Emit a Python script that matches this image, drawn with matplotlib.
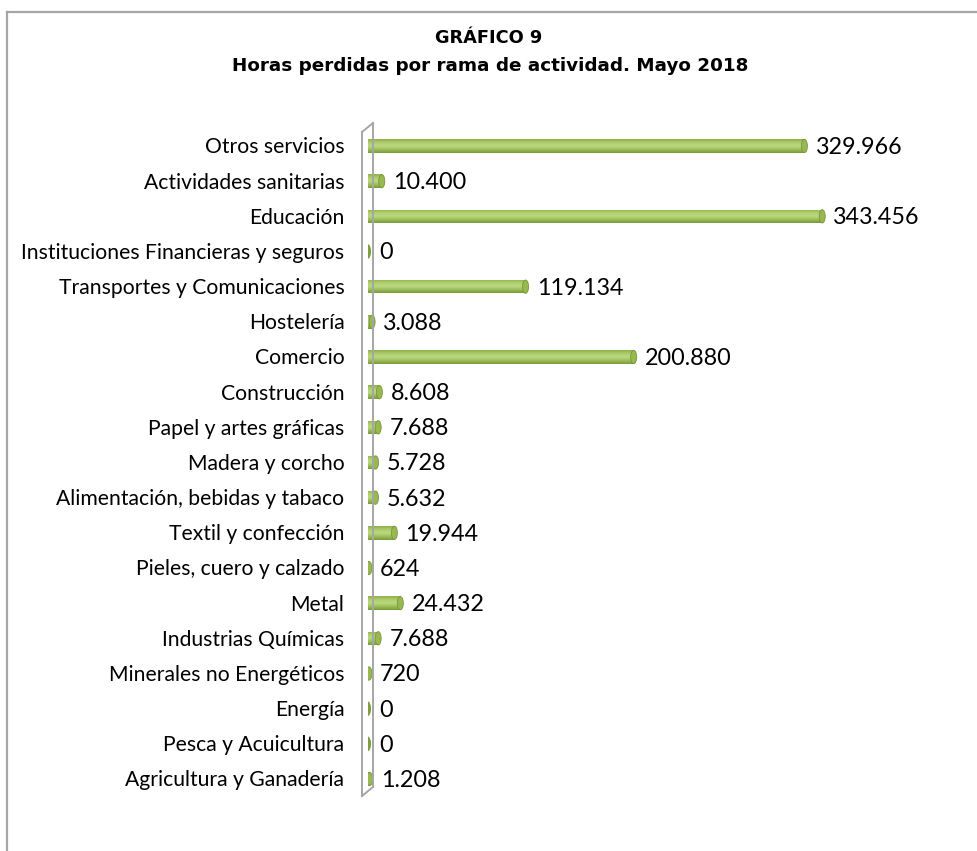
import matplotlib
matplotlib.use("Agg")
import matplotlib.pyplot as plt
import numpy as np
from matplotlib.patches import Ellipse
from matplotlib.lines import Line2D
from matplotlib.colors import LinearSegmentedColormap

categories = [
    "Agricultura y Ganadería",
    "Pesca y Acuicultura",
    "Energía",
    "Minerales no Energéticos",
    "Industrias Químicas",
    "Metal",
    "Pieles, cuero y calzado",
    "Textil y confección",
    "Alimentación, bebidas y tabaco",
    "Madera y corcho",
    "Papel y artes gráficas",
    "Construcción",
    "Comercio",
    "Hostelería",
    "Transportes y Comunicaciones",
    "Instituciones Financieras y seguros",
    "Educación",
    "Actividades sanitarias",
    "Otros servicios",
]
values = [1208, 0, 0, 720, 7688, 24432, 624, 19944, 5632, 5728, 7688, 8608,
          200880, 3088, 119134, 0, 343456, 10400, 329966]
value_labels = ["1.208", "0", "0", "720", "7.688", "24.432", "624", "19.944",
                "5.632", "5.728", "7.688", "8.608", "200.880", "3.088",
                "119.134", "0", "343.456", "10.400", "329.966"]
title1 = "GRÁFICO 9"
title2 = "Horas perdidas por rama de actividad. Mayo 2018"

FONT = ["Lato", "DejaVu Sans"]
W, H = 978, 851
fig = plt.figure(figsize=(W / 100, H / 100), dpi=100)
fig.patch.set_facecolor("white")

def fx(px):
    return px / W

def fy(py):
    return 1 - py / H

GRAY = "#A6A6A6"
# outer chart-area border (top and left visible)
fig.add_artist(Line2D([fx(7), fx(7)], [0, fy(12)], transform=fig.transFigure, color=GRAY, lw=1.6))
fig.add_artist(Line2D([fx(7), 1], [fy(12), fy(12)], transform=fig.transFigure, color=GRAY, lw=1.6))

ax_left_px, ax_top_px, ax_bot_px = 368, 128.4, 796.6
xmax = 400000
ax_width_px = 529
ax = fig.add_axes([fx(ax_left_px), fy(ax_bot_px), ax_width_px / W, (ax_bot_px - ax_top_px) / H])
ax.set_xlim(0, xmax)
ax.set_ylim(-0.5, len(categories) - 0.5)
ax.axis("off")

px_per_unit = ax_width_px / xmax
bar_h = 0.38
y = np.arange(len(categories))

grad = np.linspace(0, 1, 64).reshape(-1, 1)
cmap = LinearSegmentedColormap.from_list(
    "g", ["#789A3A", "#9CBE58", "#BCD982", "#AECD6C", "#90B04A"])

bars = ax.barh(y, values, height=bar_h, color="#9BBB59", edgecolor="none", zorder=2)
for b, v, yy in zip(bars, values, y):
    if v > 0:
        im = ax.imshow(grad, extent=[0, v, yy - bar_h / 2, yy + bar_h / 2],
                       aspect="auto", cmap=cmap, zorder=2.5, origin="lower",
                       interpolation="bilinear")
        im.set_clip_path(b)
    cap_w = 6 / px_per_unit if v > 0 else 5 / px_per_unit
    e = Ellipse((v, yy), cap_w, bar_h, facecolor="#98B852" if v > 0 else "#7FA03E",
                edgecolor="#779738", lw=0.6, zorder=3)
    ax.add_patch(e)

for v, yy, lab in zip(values, y, value_labels):
    ax.annotate(lab, (v, yy), xytext=(8, -1), textcoords="offset points",
                ha="left", va="center", fontsize=16.8, family=FONT, color="#000000")

for yy, c in zip(y, categories):
    ax.annotate(c, (0, yy), xytext=(-17, -1), textcoords="offset points",
                ha="right", va="center", fontsize=15.2, family=FONT, color="#000000",
                annotation_clip=False)

# 3D wall of the category axis
lx, rx = ax_left_px - 6, ax_left_px + 5
l_top, l_bot = 132, 796
r_top, r_bot = 123, 787
for xs, ys in [([lx, lx], [l_top, l_bot]), ([rx, rx], [r_top, r_bot]),
               ([lx, rx], [l_top, r_top]), ([lx, rx], [l_bot, r_bot])]:
    fig.add_artist(Line2D([fx(v) for v in xs], [fy(v) for v in ys],
                          transform=fig.transFigure, color=GRAY, lw=1.4))

fig.text(fx(489), fy(38), title1, ha="center", va="center", fontsize=12.8,
         fontweight="bold", family=["DejaVu Sans"])
fig.text(fx(490), fy(66), title2, ha="center", va="center", fontsize=13.2,
         fontweight="bold", family=["DejaVu Sans"])

fig.savefig("out.png", dpi=100, facecolor="white")
